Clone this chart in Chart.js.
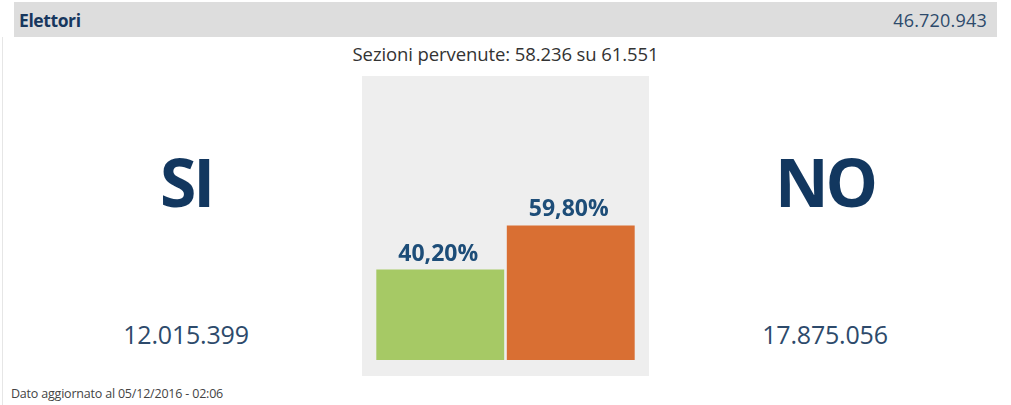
<!DOCTYPE html>
<html>
<head>
<meta charset="utf-8">
<script src="https://cdn.jsdelivr.net/npm/chart.js@4"></script>
<style>
  body { margin: 0; width: 1011px; height: 405px; background: #fff; font-family: "Open Sans", sans-serif; position: relative; overflow: hidden; }
  .abs { position: absolute; white-space: nowrap; }
  #header { left: 14px; top: 2px; width: 983px; height: 35px; background: #dddddd; }
  #elettori { left: 5px; top: 6px; font-size: 17.5px; font-weight: bold; color: #17375e; letter-spacing: -0.4px; }
  #elettoriNum { right: 10px; top: 6px; font-size: 18px; color: #2d4a6b; letter-spacing: 0.2px; }
  #sezioni { left: 0; width: 1011px; top: 41px; text-align: center; font-size: 18.5px; color: #333; letter-spacing: -0.1px; }
  #panel { left: 362px; top: 76px; width: 287px; height: 300px; background: #eeeeee; }
  .big { font-size: 66px; font-weight: bold; color: #12375f; text-align: center; width: 300px; top: 136px; letter-spacing: -3px; }
  .votes { font-size: 25px; color: #2d4a6b; text-align: center; width: 300px; top: 317px; letter-spacing: -0.2px; }
  #dato { left: 11px; top: 385px; font-size: 12.5px; color: #444; letter-spacing: -0.2px; }
  #leftLine { left: 2px; top: 37px; width: 1px; height: 368px; background: #e6e6e6; }
</style>
</head>
<body>
<div id="leftLine" class="abs"></div>
<div id="header" class="abs">
  <div id="elettori" class="abs">Elettori</div>
  <div id="elettoriNum" class="abs"></div>
</div>
<div id="sezioni" class="abs"></div>
<div id="panel" class="abs"><canvas id="myChart" width="287" height="300"></canvas></div>
<div id="siLabel" class="abs big" style="left:36px">SI</div>
<div id="noLabel" class="abs big" style="left:675px">NO</div>
<div id="siVotes" class="abs votes" style="left:36px"></div>
<div id="noVotes" class="abs votes" style="left:675px"></div>
<div id="dato" class="abs"></div>
<script>
const categories = ["SI", "NO"];
const percentages = [40.20, 59.80];
const votes = ["12.015.399", "17.875.056"];
const barColors = ["#a6c965", "#d96f33"];
const elettori = "46.720.943";
const sezioniPervenute = "58.236";
const sezioniTotali = "61.551";
const aggiornato = "05/12/2016 - 02:06";

document.getElementById("elettoriNum").innerText = elettori;
document.getElementById("sezioni").innerText = `Sezioni pervenute: ${sezioniPervenute} su ${sezioniTotali}`;
document.getElementById("siVotes").innerText = votes[0];
document.getElementById("noVotes").innerText = votes[1];
document.getElementById("dato").innerText = `Dato aggiornato al ${aggiornato}`;

// draws the percentage above each bar
const valueLabels = {
    id: 'valueLabels',
    afterDatasetsDraw(chart) {
        const c = chart.ctx;
        const meta = chart.getDatasetMeta(0);
        c.save();
        c.font = 'bold 23px "Open Sans", sans-serif';
        c.fillStyle = '#1d4d78';
        c.textAlign = 'center';
        c.textBaseline = 'alphabetic';
        meta.data.forEach((bar, i) => {
            const txt = percentages[i].toFixed(2).replace('.', ',') + '%';
            c.fillText(txt, bar.x - 2, bar.y - 9);
        });
        c.restore();
    }
};

const ctx = document.getElementById('myChart');
new Chart(ctx, {
    type: 'bar',
    data: {
        labels: categories,
        datasets: [{
            data: percentages,
            backgroundColor: barColors,
            borderWidth: 0,
            categoryPercentage: 1,
            barPercentage: 0.98
        }]
    },
    options: {
        responsive: false,
        animation: false,
        layout: { padding: { left: 13, right: 13, top: 59, bottom: 16 } },
        plugins: { legend: { display: false }, tooltip: { enabled: false } },
        scales: {
            x: { display: false },
            y: { display: false, min: 0, max: 100 }
        }
    },
    plugins: [valueLabels]
});
</script>
</body>
</html>
